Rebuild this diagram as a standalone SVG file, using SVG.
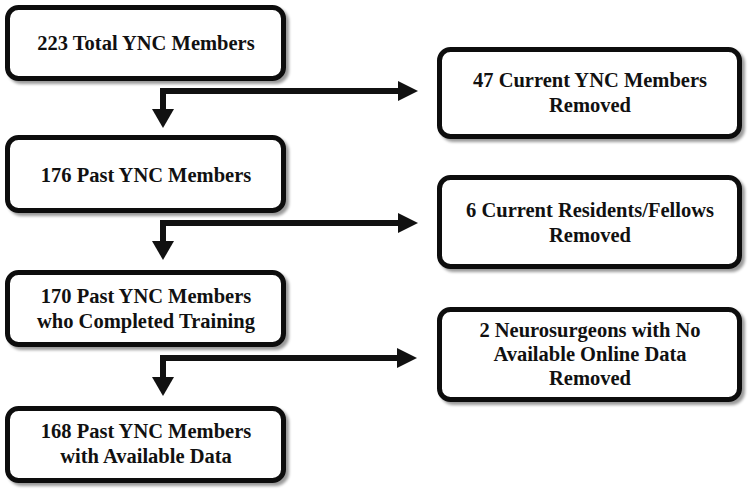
<svg xmlns="http://www.w3.org/2000/svg" width="750" height="489" viewBox="0 0 750 489">
<defs>
<filter id="sh" x="-5%" y="-10%" width="115%" height="130%">
<feGaussianBlur in="SourceAlpha" stdDeviation="1.5"/>
<feOffset dx="3" dy="3" result="b"/>
<feComponentTransfer><feFuncA type="linear" slope="0.4"/></feComponentTransfer>
<feMerge><feMergeNode/><feMergeNode in="SourceGraphic"/></feMerge>
</filter>
<style>
.box{fill:#fff;stroke:#111;stroke-width:5;filter:url(#sh)}
.t{font-family:"Liberation Serif","Times New Roman",serif;font-weight:bold;font-size:20.5px;fill:#111;text-anchor:middle}
.ln{fill:none;stroke:#111;stroke-width:6;stroke-linejoin:miter}
.hd{fill:#111}
</style>
</defs>
<rect width="750" height="489" fill="#fff"/>
<g id="n1"><rect class="box" x="7.5" y="7.5" width="276" height="71" rx="11"/><text class="t" x="146" y="50">223 Total YNC Members</text></g>
<g id="n2"><rect class="box" x="7.5" y="137.5" width="276" height="73" rx="11"/><text class="t" x="146" y="182">176 Past YNC Members</text></g>
<g id="n3"><rect class="box" x="7.5" y="272.5" width="276" height="72" rx="11"/><text class="t" x="146" y="303">170 Past YNC Members</text><text class="t" x="146" y="328">who Completed Training</text></g>
<g id="n4"><rect class="box" x="7.5" y="408.5" width="276" height="72" rx="11"/><text class="t" x="146" y="438">168 Past YNC Members</text><text class="t" x="146" y="463">with Available Data</text></g>
<g id="r1"><rect class="box" x="439.5" y="49.5" width="300" height="87" rx="11"/><text class="t" x="590" y="87">47 Current YNC Members</text><text class="t" x="590" y="112">Removed</text></g>
<g id="r2"><rect class="box" x="439.5" y="177.5" width="300" height="89" rx="11"/><text class="t" x="590" y="217">6 Current Residents/Fellows</text><text class="t" x="590" y="242">Removed</text></g>
<g id="r3"><rect class="box" x="439.5" y="309.5" width="300" height="90" rx="11"/><text class="t" x="590" y="337">2 Neurosurgeons with No</text><text class="t" x="590" y="361">Available Online Data</text><text class="t" x="590" y="385">Removed</text></g>
<g id="connectors">
<path class="ln" d="M400,91 H163 V110"/>
<polygon class="hd" points="398,81 418,91 398,101"/>
<polygon class="hd" points="152,109 174,109 163,128"/>
<path class="ln" d="M400,223 H163 V242"/>
<polygon class="hd" points="398,213 418,223 398,233"/>
<polygon class="hd" points="152,241 174,241 163,260"/>
<path class="ln" d="M400,358 H163 V378"/>
<polygon class="hd" points="397,348 417,358 397,368"/>
<polygon class="hd" points="152,377 174,377 163,396"/>
</g>
</svg>
